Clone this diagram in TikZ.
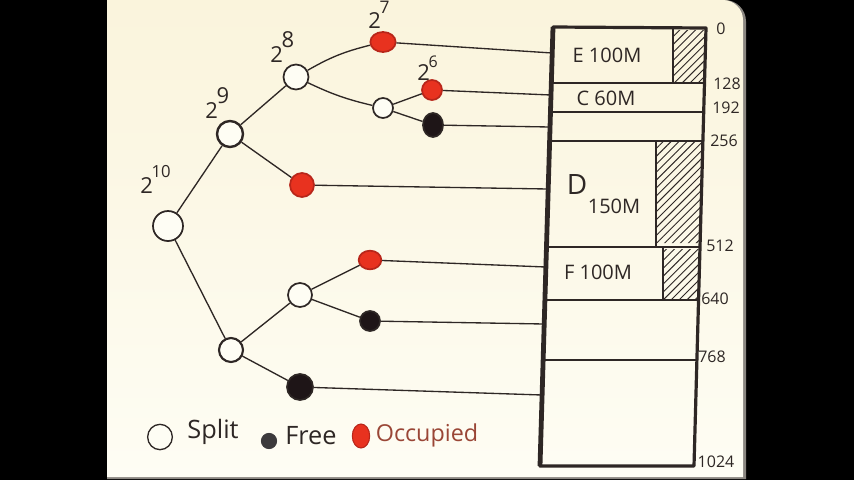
\documentclass[tikz,border=0pt]{standalone}
\usepackage{fontspec}
\setmainfont{Open Sans}
\usetikzlibrary{shapes.geometric,patterns.meta}
\definecolor{ink}{HTML}{2E2725}
\definecolor{papertop}{HTML}{FAF4DC}
\definecolor{paperbot}{HTML}{FEFDF4}
\definecolor{occred}{HTML}{E8321F}
\definecolor{occedge}{HTML}{B8261A}
\definecolor{freefill}{HTML}{1E1517}
\definecolor{legfree}{HTML}{3C3A3C}
\definecolor{occtext}{HTML}{9A4636}
\definecolor{paperedge}{HTML}{8A8680}
\begin{document}
\begin{tikzpicture}[x=0.75pt,y=-0.75pt,
  bub/.style={ellipse, inner sep=0pt, line width=1.3pt},
  splitn/.style={bub, draw=ink, fill=paperbot},
  freen/.style={bub, draw=ink, fill=freefill},
  occn/.style={bub, draw=occedge, fill=occred},
  edge/.style={draw=ink, line width=1pt},
  wall/.style={draw=ink, line width=2.4pt, line join=round},
  rowline/.style={draw=ink, line width=1.3pt},
  hatch/.style={pattern={Lines[angle=45,distance=4.2pt,line width=0.7pt]}, pattern color=ink},
  lbl/.style={inner sep=0pt, text=ink, font=\fontsize{16.5}{18}\selectfont},
  memlbl/.style={inner sep=0pt, text=ink, font=\fontsize{15}{17}\selectfont},
  addr/.style={inner sep=0pt, text=ink, font=\fontsize{12}{14}\selectfont},
  leg/.style={inner sep=0pt, text=ink, font=\fontsize{19}{21}\selectfont}
]
\useasboundingbox (0,0) rectangle (854,480);
% background and paper
\fill[black] (0,0) rectangle (854,480);
\fill[paperedge] (107,479) -- (107,0) {[rounded corners=16] -- (746,0) -- (746,200)} -- (746,479) -- cycle;
\shade[top color=papertop, bottom color=paperbot] (107,477) -- (107,0) {[rounded corners=15] -- (743,0) -- (743,200)} -- (743,477) -- cycle;

% hatched (unused) parts of blocks
\fill[hatch] (673,30) -- (705.5,30) -- (704.5,83) -- (673,83) -- cycle;
\fill[hatch] (656,142) -- (702.9,142) -- (700.2,243) -- (656,243) -- cycle;
\fill[hatch] (663,249) -- (700,249) -- (698.5,299) -- (663,299) -- cycle;

% memory box
\coordinate (TL) at (553,27);
\coordinate (TR) at (706,28);
\coordinate (BR) at (694,466);
\coordinate (BL) at (540,466);
\draw[rowline] (551.3,83) -- (704.5,83);
\draw[rowline] (550.5,112) -- (703.7,112);
\draw[rowline] (549.6,141) -- (702.9,141);
\draw[rowline] (546.5,247) -- (700,247);
\draw[rowline] (545,300) -- (698.5,300);
\draw[rowline] (543.1,360) -- (696.9,360);
\draw[rowline] (673,28) -- (673,83);
\draw[rowline] (656,141) -- (656,247);
\draw[rowline] (663,247) -- (663,300);
\draw[wall] (TL) -- (TR) -- (BR) -- (BL) -- cycle;
\draw[ink, line width=3.6pt] (TL) -- (BL);

% memory labels
\node[memlbl] (mE) at (607,55) {E 100M};
\node[memlbl] (mC) at (606,98) {C 60M};
\node[inner sep=0pt, text=ink, font=\fontsize{21}{23}\selectfont] (mD) at (577,184) {D};
\node[memlbl] (mD2) at (614,206) {150M};
\node[memlbl] (mF) at (598,272) {F 100M};

% addresses
\node[addr] (a0) at (721,29) {0};
\node[addr] (a128) at (727,84) {128};
\node[addr] (a192) at (726,108) {192};
\node[addr] (a256) at (724,141) {256};
\node[addr] (a512) at (720,246) {512};
\node[addr] (a640) at (715,299) {640};
\node[addr] (a768) at (712,357) {768};
\node[addr] (a1024) at (716,462) {1024};

% tree nodes
\node[splitn, minimum size=22.5pt] (r) at (168,226) {};
\node[splitn, minimum size=19.5pt, line width=1.8pt] (a) at (230,134) {};
\node[splitn, minimum size=18.75pt] (b) at (296,77) {};
\node[occn, minimum width=19pt, minimum height=15pt] (c) at (383,42) {};
\node[splitn, minimum size=15pt] (d) at (383,108) {};
\node[occn, minimum size=15pt] (e) at (432,90) {};
\node[freen, minimum width=15pt, minimum height=18pt] (f) at (433,125) {};
\node[occn, minimum size=18pt] (g) at (302,185) {};
\node[splitn, minimum size=18pt, line width=1.6pt] (h) at (231,350) {};
\node[splitn, minimum size=18pt] (i) at (300,295) {};
\node[occn, minimum width=17pt, minimum height=14pt] (j) at (370,260) {};
\node[freen, minimum size=15pt] (k) at (370,321) {};
\node[freen, minimum size=19.5pt] (l) at (300,387) {};

% tree labels
\node[lbl, anchor=base west] (t10) at (140,193) {2\kern-1pt\raisebox{12pt}{\fontsize{12.5}{14}\selectfont 10}};
\node[lbl, anchor=base west] (t9) at (205,118) {2\kern-1pt\raisebox{11pt}{9}};
\node[lbl, anchor=base west] (t8) at (270,62) {2\kern-1pt\raisebox{11pt}{8}};
\node[lbl, anchor=base west] (t7) at (368,28) {2\kern-1pt\raisebox{11pt}{\fontsize{13}{14}\selectfont 7}};
\node[lbl, anchor=base west] (t6) at (417,80) {2\kern-1pt\raisebox{9.5pt}{\fontsize{12}{14}\selectfont 6}};

% tree edges
\draw[edge] (r) -- (a);
\draw[edge] (r) -- (h);
\draw[edge] (a) -- (b);
\draw[edge] (a) -- (g);
\draw[edge] (b) to[bend left=8] (c);
\draw[edge] (b) to[bend right=6] (d);
\draw[edge] (d) -- (e);
\draw[edge] (d) -- (f);
\draw[edge] (h) -- (i);
\draw[edge] (h) -- (l);
\draw[edge] (i) -- (j);
\draw[edge] (i) -- (k);

% connectors to memory
\coordinate (p1) at (552.2,53);
\coordinate (p2) at (551,95);
\coordinate (p3) at (550,127);
\coordinate (p4) at (548.2,189);
\coordinate (p5) at (545.9,267);
\coordinate (p6) at (544.2,324);
\coordinate (p7) at (542.1,395);
\draw[edge] (c) -- (p1);
\draw[edge] (e) -- (p2);
\draw[edge] (f) -- (p3);
\draw[edge] (g) -- (p4);
\draw[edge] (j) -- (p5);
\draw[edge] (k) -- (p6);
\draw[edge] (l) -- (p7);

% legend
\node[splitn, minimum width=18.5pt, minimum height=19pt, line width=1pt] (ls) at (160,437) {};
\node[leg] (lst) at (213,432) {Split};
\node[bub, fill=legfree, draw=legfree, minimum size=11.5pt, line width=0.6pt] (lf) at (269,441) {};
\node[leg] (lft) at (311,436) {Free};
\node[occn, minimum width=13pt, minimum height=18pt, line width=0.8pt] (lo) at (361,436) {};
\node[leg, text=occtext, font=\fontsize{17.5}{20}\selectfont] (lot) at (427,435) {Occupied};
\end{tikzpicture}
\end{document}
